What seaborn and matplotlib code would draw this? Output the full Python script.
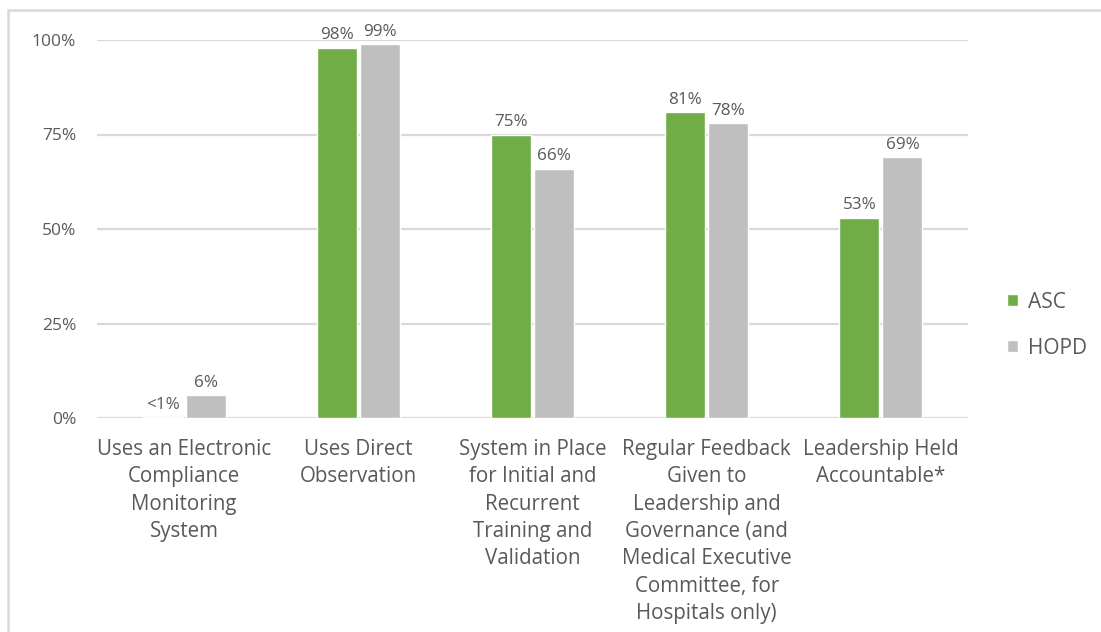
import matplotlib
matplotlib.use("Agg")
import matplotlib.pyplot as plt
from matplotlib.patches import Rectangle
import seaborn as sns
import pandas as pd

categories = [
    "Uses an Electronic\nCompliance\nMonitoring\nSystem",
    "Uses Direct\nObservation",
    "System in Place\nfor Initial and\nRecurrent\nTraining and\nValidation",
    "Regular Feedback\nGiven to\nLeadership and\nGovernance (and\nMedical Executive\nCommittee, for\nHospitals only)",
    "Leadership Held\nAccountable*",
]
asc_values = [0.3, 98, 75, 81, 53]
hopd_values = [6, 99, 66, 78, 69]
asc_labels = ["<1%", "98%", "75%", "81%", "53%"]
hopd_labels = ["6%", "99%", "66%", "78%", "69%"]
series = ["ASC", "HOPD"]
y_ticks = [0, 25, 50, 75, 100]
y_tick_labels = ["0%", "25%", "50%", "75%", "100%"]

GREEN = "#70AD47"
GREY = "#BFBFBF"
TEXT = "#595959"
GRID = "#D9D9D9"

df = pd.DataFrame({
    "category": categories * 2,
    "setting": [series[0]] * len(categories) + [series[1]] * len(categories),
    "value": asc_values + hopd_values,
})

sns.set_theme(style="white")
plt.rcParams["font.family"] = ["Open Sans", "DejaVu Sans"]

fig = plt.figure(figsize=(11.01, 6.32), dpi=100)
ax = fig.add_axes([97 / 1101, 1 - 418 / 632, (968 - 97) / 1101, (418 - 40) / 632])

sns.barplot(
    data=df, x="category", y="value", hue="setting",
    hue_order=series, order=categories,
    palette=[GREEN, GREY], width=0.494, gap=0.07,
    saturation=1, ax=ax, legend=True,
)

ax.set_ylim(0, 100)
ax.set_xlim(-0.5, len(categories) - 0.5)
ax.set_yticks(y_ticks)
ax.set_yticklabels(y_tick_labels)
ax.yaxis.grid(True, color=GRID, linewidth=1.6)
ax.set_axisbelow(True)
for s in ax.spines.values():
    s.set_visible(False)
ax.tick_params(axis="y", length=0, pad=15, labelsize=12.5, labelcolor=TEXT)
ax.tick_params(axis="x", length=0, pad=15, labelsize=14.8, labelcolor=TEXT)
for lbl in ax.get_xticklabels():
    lbl.set_linespacing(1.40)
    lbl.set_verticalalignment("top")
ax.set_xlabel("")
ax.set_ylabel("")

# value labels above each bar
for container, labels in zip(ax.containers, [asc_labels, hopd_labels]):
    ax.bar_label(container, labels=labels, padding=3, fontsize=12.3,
                 color=TEXT, clip_on=False)

handles, labels = ax.get_legend_handles_labels()
ax.legend(handles, labels, loc="center left", bbox_to_anchor=(988 / 1101, 1 - 325 / 632),
          bbox_transform=fig.transFigure, frameon=False, fontsize=15,
          labelcolor=TEXT, handlelength=0.55, handleheight=0.55,
          handletextpad=0.45, labelspacing=1.2)

# light frame around the chart area
fig.patches.append(Rectangle((8 / 1101, -0.2), 1.2, 1.2 - 10 / 632,
                             transform=fig.transFigure, fill=False,
                             edgecolor=GRID, linewidth=1.8))

fig.savefig("out.png", dpi=100)
